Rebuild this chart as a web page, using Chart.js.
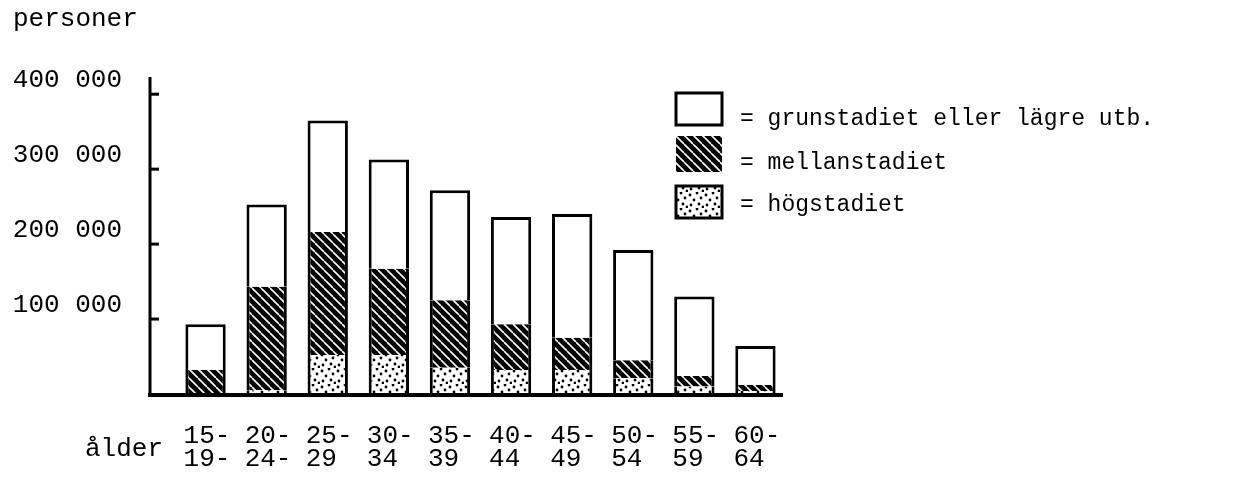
<!DOCTYPE html>
<html>
<head>
<meta charset="utf-8">
<script src="https://cdn.jsdelivr.net/npm/chart.js@4/dist/chart.umd.min.js"></script>
<style>
  body { margin: 0; background: #fff; }
  #wrap { width: 1253px; height: 481px; position: relative; }
</style>
</head>
<body>
<div id="wrap"><canvas id="eduChart"></canvas></div>
<script>
const categories = [
  ['15-', '19-'], ['20-', '24-'], ['25-', '29'], ['30-', '34'], ['35-', '39'],
  ['40-', '44'], ['45-', '49'], ['50-', '54'], ['55-', '59'], ['60-', '64']
];
const hogstadiet    = [0, 5000, 52000, 52000, 35000, 32000, 32000, 21000, 10000, 4000];
const mellanstadiet = [32000, 138000, 164000, 115000, 90000, 61000, 43000, 24000, 14000, 8000];
const grunstadiet   = [61000, 110000, 149000, 146000, 147000, 143000, 165000, 147000, 106000, 52000];
const yTicks = [100000, 200000, 300000, 400000];
const seriesNames = ['grunstadiet eller lägre utb.', 'mellanstadiet', 'högstadiet'];

const FONT = '"Liberation Mono", "DejaVu Sans Mono", monospace';

function makeHatch() {
  const c = document.createElement('canvas');
  c.width = 9; c.height = 9;
  const g = c.getContext('2d');
  g.fillStyle = '#000';
  g.fillRect(0, 0, 9, 9);
  g.strokeStyle = '#fff';
  g.lineWidth = 1.6;
  [-9, 0, 9].forEach(k => {
    g.beginPath();
    g.moveTo(k, 0);
    g.lineTo(k + 9, 9);
    g.stroke();
  });
  return g.createPattern(c, 'repeat');
}

function makeDots() {
  const c = document.createElement('canvas');
  c.width = 16; c.height = 16;
  const g = c.getContext('2d');
  g.fillStyle = '#fff';
  g.fillRect(0, 0, 16, 16);
  g.fillStyle = '#000';
  [[2, 3], [9, 1], [13, 6], [6, 8], [11, 12], [3, 13], [15, 15]].forEach(p => {
    g.beginPath();
    g.arc(p[0], p[1], 1.4, 0, Math.PI * 2);
    g.fill();
  });
  return g.createPattern(c, 'repeat');
}

const hatch = makeHatch();
const dots = makeDots();

function fmt(v) {
  return String(v).replace(/\B(?=(\d{3})+(?!\d))/g, ' ');
}

// axis lines, tick marks, legend and the "ålder" label, typewriter style
const paperAxes = {
  id: 'paperAxes',
  afterDraw(chart) {
    const ctx = chart.ctx;
    const area = chart.chartArea;
    const y = chart.scales.y;
    const axisX = area.left - 25;
    ctx.save();
    ctx.strokeStyle = '#000';
    ctx.lineCap = 'butt';

    ctx.lineWidth = 3;
    ctx.beginPath();
    ctx.moveTo(axisX, y.getPixelForValue(423000));
    ctx.lineTo(axisX, area.bottom + 2);
    ctx.stroke();

    yTicks.forEach(t => {
      const py = y.getPixelForValue(t);
      ctx.beginPath();
      ctx.moveTo(axisX, py);
      ctx.lineTo(axisX + 9, py);
      ctx.stroke();
    });

    ctx.lineWidth = 4;
    ctx.beginPath();
    ctx.moveTo(axisX - 2, area.bottom + 1);
    ctx.lineTo(area.right - 3, area.bottom + 1);
    ctx.stroke();

    // legend
    const fills = [null, hatch, dots];
    const boxes = [[676, 93, 46, 32], [676, 136, 46, 36], [676, 186, 46, 32]];
    const baselines = [125, 169, 211];
    ctx.font = '23px ' + FONT;
    ctx.fillStyle = '#000';
    ctx.textBaseline = 'alphabetic';
    seriesNames.forEach((name, i) => {
      const b = boxes[i];
      ctx.fillStyle = fills[i] || '#fff';
      ctx.fillRect(b[0], b[1], b[2], b[3]);
      if (i !== 1) {
        ctx.lineWidth = 3;
        ctx.strokeRect(b[0], b[1], b[2], b[3]);
      }
      ctx.fillStyle = '#000';
      ctx.fillText('= ' + name, 740, baselines[i]);
    });

    ctx.font = '26px ' + FONT;
    ctx.textAlign = 'right';
    ctx.fillText('ålder', 163, 456);
    ctx.restore();
  }
};

const ctx = document.getElementById('eduChart').getContext('2d');
new Chart(ctx, {
  type: 'bar',
  data: {
    labels: categories,
    datasets: [
      {
        label: seriesNames[2],
        data: hogstadiet,
        backgroundColor: dots,
        borderColor: '#000',
        borderWidth: { left: 3, right: 3, top: 0, bottom: 0 }
      },
      {
        label: seriesNames[1],
        data: mellanstadiet,
        backgroundColor: hatch,
        borderColor: '#000',
        borderWidth: { left: 3, right: 3, top: 0, bottom: 0 }
      },
      {
        label: seriesNames[0],
        data: grunstadiet,
        backgroundColor: '#fff',
        borderColor: '#000',
        borderWidth: { left: 3, right: 3, top: 3, bottom: 0 }
      }
    ]
  },
  options: {
    responsive: true,
    maintainAspectRatio: false,
    animation: false,
    layout: {
      padding: { left: 13, right: 467, top: 0, bottom: 10 }
    },
    datasets: {
      bar: { categoryPercentage: 1, barPercentage: 0.66, inflateAmount: 0 }
    },
    scales: {
      x: {
        stacked: true,
        grid: { display: false, drawTicks: false },
        border: { display: false },
        afterFit: scale => { scale.height = 77; },
        ticks: {
          color: '#000',
          font: { family: FONT, size: 26, lineHeight: 0.9 },
          align: 'start',
          labelOffset: -22,
          padding: 30,
          maxRotation: 0,
          autoSkip: false
        }
      },
      y: {
        stacked: true,
        min: 0,
        max: 400000,
        grid: { display: false, drawTicks: false },
        border: { display: false },
        afterFit: scale => { scale.width = 162; },
        ticks: {
          stepSize: 100000,
          color: '#000',
          font: { family: FONT, size: 26 },
          padding: 53,
          labelOffset: -14,
          callback: v => (v === 0 ? '' : fmt(v))
        }
      }
    },
    plugins: {
      legend: { display: false },
      tooltip: { enabled: false },
      title: {
        display: true,
        text: 'personer',
        align: 'start',
        color: '#000',
        font: { family: FONT, size: 26, weight: 'normal' },
        padding: { top: 4, bottom: 59 }
      }
    }
  },
  plugins: [paperAxes]
});
</script>
</body>
</html>
